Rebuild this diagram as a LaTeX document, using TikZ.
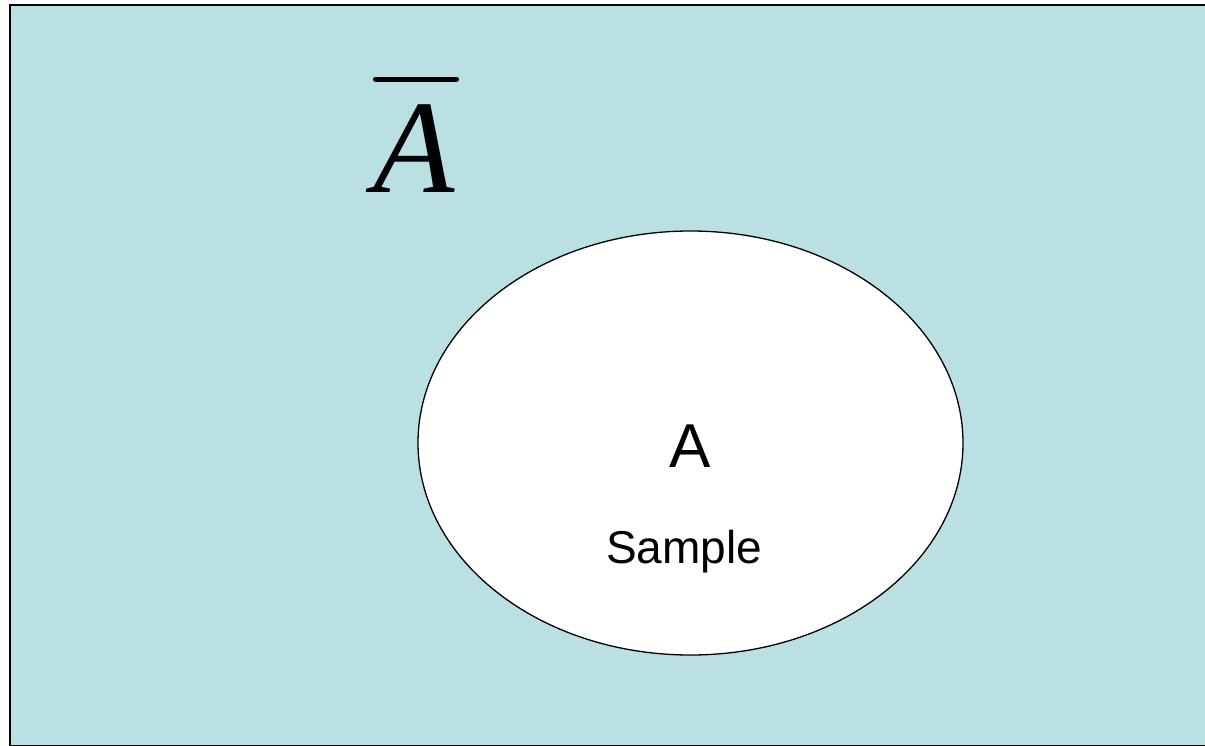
\documentclass[tikz,border=0pt]{standalone}
\usepackage{fontspec}
\usetikzlibrary{shapes.geometric}
\setmainfont{Liberation Sans}
\newfontfamily\timesfont{Liberation Serif}
\definecolor{oceanfill}{HTML}{BBE0E3}
\begin{document}
\begin{tikzpicture}[x=1pt,y=-1pt,
  universe/.style={draw=black,line width=2pt,fill=oceanfill},
  setA/.style={ellipse,draw=black,line width=1.3pt,fill=white,minimum width=545pt,minimum height=424pt,inner sep=0pt},
  biglabel/.style={anchor=base,inner sep=0pt,font=\fontsize{62}{62}\selectfont},
  smalllabel/.style={anchor=base,inner sep=0pt,font=\fontsize{46}{46}\selectfont},
  complabel/.style={anchor=base,inner sep=0pt,font=\timesfont\itshape\fontsize{133}{133}\selectfont}]
  \useasboundingbox (0,0) rectangle (1205,745);
  % sample space
  \path[universe] (10,4.5) rectangle (1210,745.5);
  % event A
  \node[setA] (evA) at (690.5,443) {};
  \node[biglabel] (lblA) at (690,467) {A};
  \node[smalllabel] (lblS) at (684,563) {Sample};
  % complement of A
  \node[complabel] (abar) at (414,192) {A};
  \draw[line width=5pt,line cap=round]
    ([xshift=-38.5pt,yshift=113pt]abar.base) -- ([xshift=42.5pt,yshift=113pt]abar.base);
\end{tikzpicture}
\end{document}
